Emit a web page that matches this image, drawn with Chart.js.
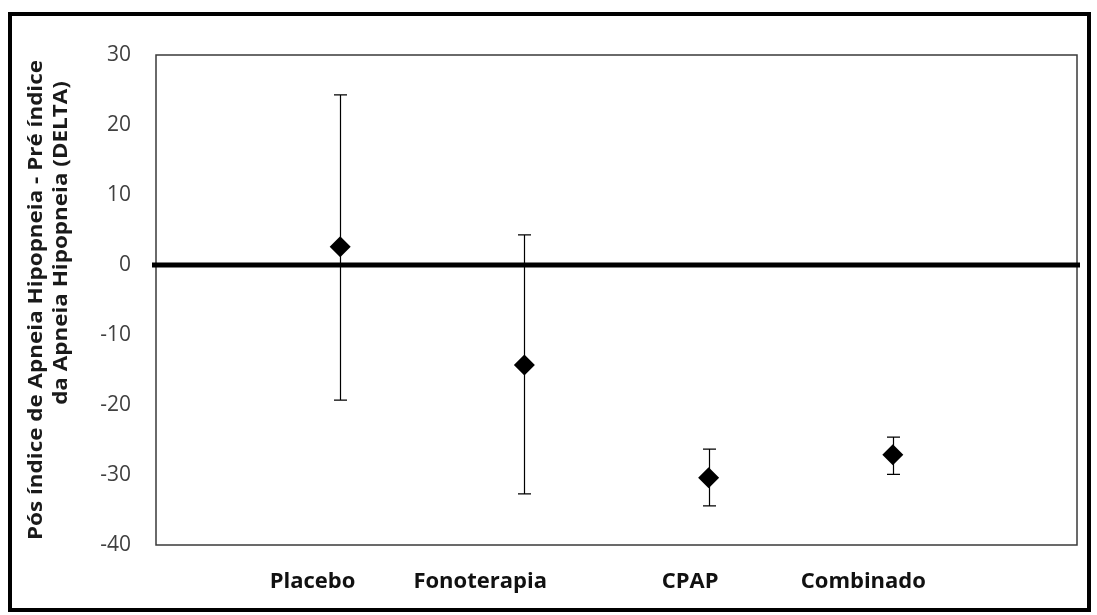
<!DOCTYPE html>
<html>
<head>
<meta charset="utf-8">
<script src="https://cdn.jsdelivr.net/npm/chart.js@4.4.1/dist/chart.umd.min.js"></script>
<style>
  html, body { margin: 0; padding: 0; background: #fff; }
  #frame { position: absolute; left: 8px; top: 12px; width: 1083px; height: 600px; border: 4px solid #000; box-sizing: border-box; }
  #c { position: absolute; left: 0; top: 0; }
</style>
</head>
<body>
<div id="frame"></div>
<canvas id="c" width="1097" height="615"></canvas>
<script>
// grupos e valores (delta do IAH)
var groups = ['Placebo', 'Fonoterapia', 'CPAP', 'Combinado'];
var groupX = [1, 2, 3, 4];
var delta = [2.6, -14.3, -30.4, -27.1];
var errHigh = [24.3, 4.3, -26.3, -24.6];
var errLow = [-19.3, -32.7, -34.4, -29.9];
// onde ficam os rótulos das categorias no eixo x (como no original)
var labelAt = [0.85, 1.76, 2.9, 3.84];
var yTicks = [30, 20, 10, 0, -10, -20, -30, -40];
var yTitle = ['Pós índice de Apneia Hipopneia - Pré índice', 'da Apneia Hipopneia (DELTA)'];

var points = [];
for (var i = 0; i < groups.length; i++) {
    points.push({ x: groupX[i], y: delta[i] });
}

var errorBars = {
    id: 'errorBars',
    beforeDatasetsDraw: function (chart) {
        var ctx = chart.ctx;
        var xs = chart.scales.x, ys = chart.scales.y;
        ctx.save();
        ctx.strokeStyle = '#000';
        ctx.lineWidth = 1.2;
        for (var i = 0; i < groups.length; i++) {
            var px = Math.round(xs.getPixelForValue(groupX[i])) + 0.5;
            var top = ys.getPixelForValue(errHigh[i]);
            var bot = ys.getPixelForValue(errLow[i]);
            ctx.beginPath();
            ctx.moveTo(px, top); ctx.lineTo(px, bot);
            ctx.moveTo(px - 6.5, top); ctx.lineTo(px + 6.5, top);
            ctx.moveTo(px - 6.5, bot); ctx.lineTo(px + 6.5, bot);
            ctx.stroke();
        }
        ctx.restore();
    }
};

var plotBox = {
    id: 'plotBox',
    beforeDatasetsDraw: function (chart) {
        var a = chart.chartArea, ctx = chart.ctx;
        ctx.save();
        ctx.strokeStyle = '#3a3a3a';
        ctx.lineWidth = 1.5;
        ctx.strokeRect(a.left, a.top, a.right - a.left, a.bottom - a.top);
        // linha do zero
        var y0 = chart.scales.y.getPixelForValue(0);
        ctx.strokeStyle = '#000';
        ctx.lineWidth = 5;
        ctx.beginPath();
        ctx.moveTo(a.left - 4, y0);
        ctx.lineTo(a.right + 3, y0);
        ctx.stroke();
        ctx.restore();
    }
};

// titulo do eixo y, um pouco esticado no comprimento como no original
var yTitlePlugin = {
    id: 'yTitlePlugin',
    afterDraw: function (chart) {
        var ctx = chart.ctx, a = chart.chartArea;
        var mid = (a.top + a.bottom) / 2;
        ctx.save();
        ctx.font = 'bold 19px "Open Sans"';
        ctx.fillStyle = '#1a1a1a';
        ctx.textAlign = 'center';
        ctx.textBaseline = 'middle';
        var stretch = 480 / ctx.measureText(yTitle[0]).width;
        ctx.translate(37, mid);
        ctx.rotate(-Math.PI / 2);
        ctx.scale(stretch, 1);
        ctx.fillText(yTitle[0], 0, 0);
        ctx.fillText(yTitle[1], 57 / stretch, 25);
        ctx.restore();
    }
};

new Chart(document.getElementById('c'), {
    type: 'scatter',
    data: {
        datasets: [{
            data: points,
            pointStyle: 'rectRot',
            pointRadius: 10.5,
            pointHoverRadius: 10.5,
            backgroundColor: '#000',
            borderColor: '#000',
            borderWidth: 0
        }]
    },
    plugins: [plotBox, errorBars, yTitlePlugin],
    options: {
        responsive: false,
        animation: false,
        layout: { padding: { left: 0, top: 55, right: 20, bottom: 0 } },
        plugins: {
            legend: { display: false },
            tooltip: { enabled: false }
        },
        scales: {
            x: {
                type: 'linear',
                min: 0,
                max: 5,
                afterBuildTicks: function (axis) {
                    axis.ticks = labelAt.map(function (v) { return { value: v }; });
                },
                afterFit: function (axis) { axis.height = 70; },
                grid: { display: false, drawTicks: false },
                border: { display: false },
                ticks: {
                    autoSkip: false,
                    maxRotation: 0,
                    padding: 24,
                    color: '#111',
                    font: { family: 'Open Sans', size: 22, weight: 'bold' },
                    callback: function (v, idx) { return groups[idx]; }
                }
            },
            y: {
                min: -40,
                max: 30,
                afterBuildTicks: function (axis) {
                    axis.ticks = yTicks.map(function (v) { return { value: v }; });
                },
                afterFit: function (axis) { axis.width = 156; },
                grid: { display: false, drawTicks: false },
                border: { display: false },
                ticks: {
                    padding: 25,
                    color: '#404040',
                    font: { family: 'Open Sans', size: 21 }
                },
                title: { display: false }
            }
        }
    }
});
</script>
</body>
</html>
